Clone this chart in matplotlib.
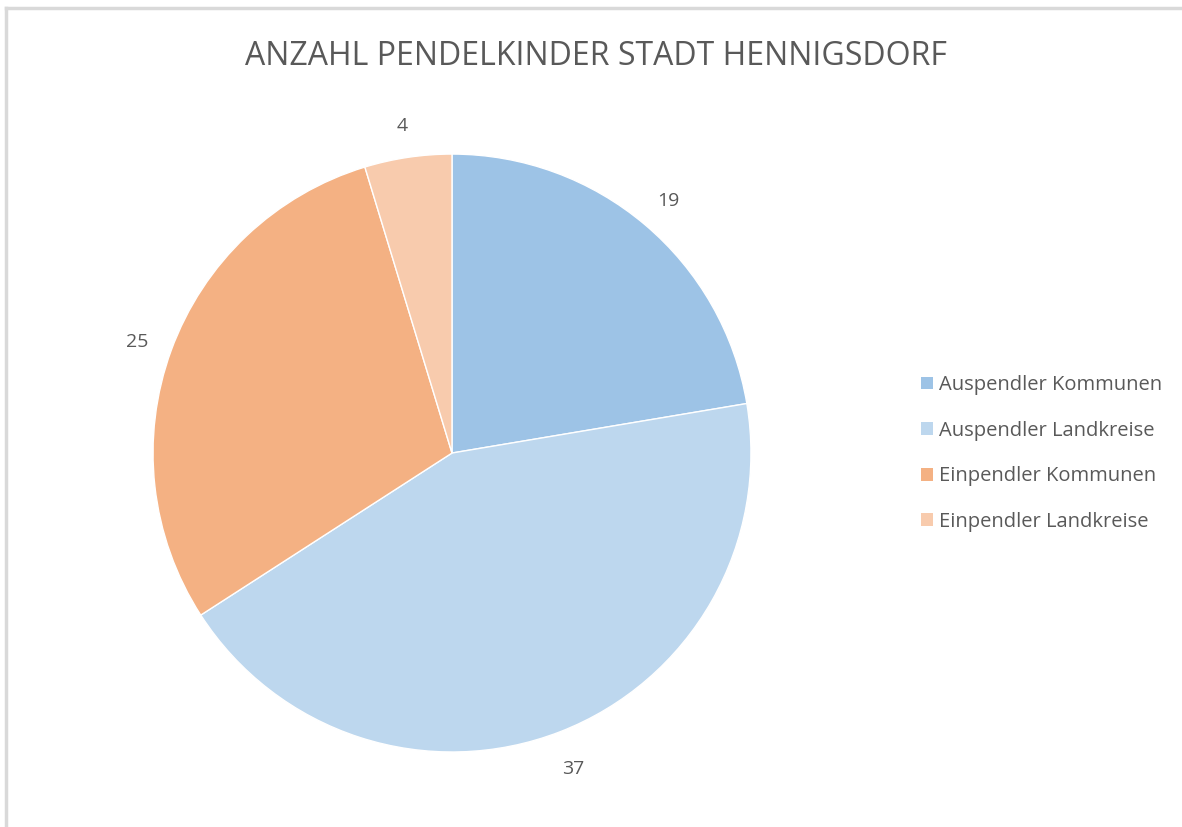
import matplotlib.pyplot as plt
import matplotlib.transforms as mtransforms
from matplotlib.lines import Line2D
from matplotlib.patches import Patch

categories = ["Auspendler Kommunen", "Auspendler Landkreise",
              "Einpendler Kommunen", "Einpendler Landkreise"]
values = [19, 37, 25, 4]
colors = ["#9DC3E6", "#BDD7EE", "#F4B183", "#F8CBAD"]
title = "ANZAHL PENDELKINDER STADT HENNIGSDORF"

plt.rcParams['font.family'] = ['Open Sans', 'DejaVu Sans']
text_color = "#595959"

fig = plt.figure(figsize=(11.82, 8.27), dpi=100)
ax = fig.add_axes([0.1294, 0.0907, 0.506, 0.723])

wedges, texts = ax.pie(values, labels=[str(v) for v in values], colors=colors,
                       startangle=90, counterclock=False, radius=1.0,
                       labeldistance=1.12,
                       wedgeprops=dict(edgecolor="white", linewidth=1),
                       textprops=dict(color=text_color, fontsize=14))
# nudge value labels slightly down so digits sit where the reference has them
shift = mtransforms.ScaledTranslation(0, -4 / 100, fig.dpi_scale_trans)
for t in texts:
    t.set_horizontalalignment("center")
    t.set_verticalalignment("center")
    t.set_transform(t.get_transform() + shift)
ax.set_xlim(-1, 1)
ax.set_ylim(-1, 1)
ax.set_aspect("equal")

fig.text(0.504, 0.9214, title, ha="center", va="baseline", fontsize=23,
         color=text_color)

handles = [Patch(facecolor=c, edgecolor="none") for c in colors]
fig.legend(handles, categories, loc="center left", bbox_to_anchor=(0.764, 0.4516),
           frameon=False, fontsize=14.5, labelcolor=text_color,
           handlelength=0.6, handleheight=0.6, handletextpad=0.3,
           labelspacing=1.27)

# outer chart border (only top and left visible)
fig.add_artist(Line2D([0.005, 1.0], [0.9905, 0.9905], color="#D9D9D9", lw=2.5,
                      transform=fig.transFigure))
fig.add_artist(Line2D([0.005, 0.005], [0.0, 0.9905], color="#D9D9D9", lw=2.5,
                      transform=fig.transFigure))

fig.savefig("out.png", dpi=100, facecolor="white")
